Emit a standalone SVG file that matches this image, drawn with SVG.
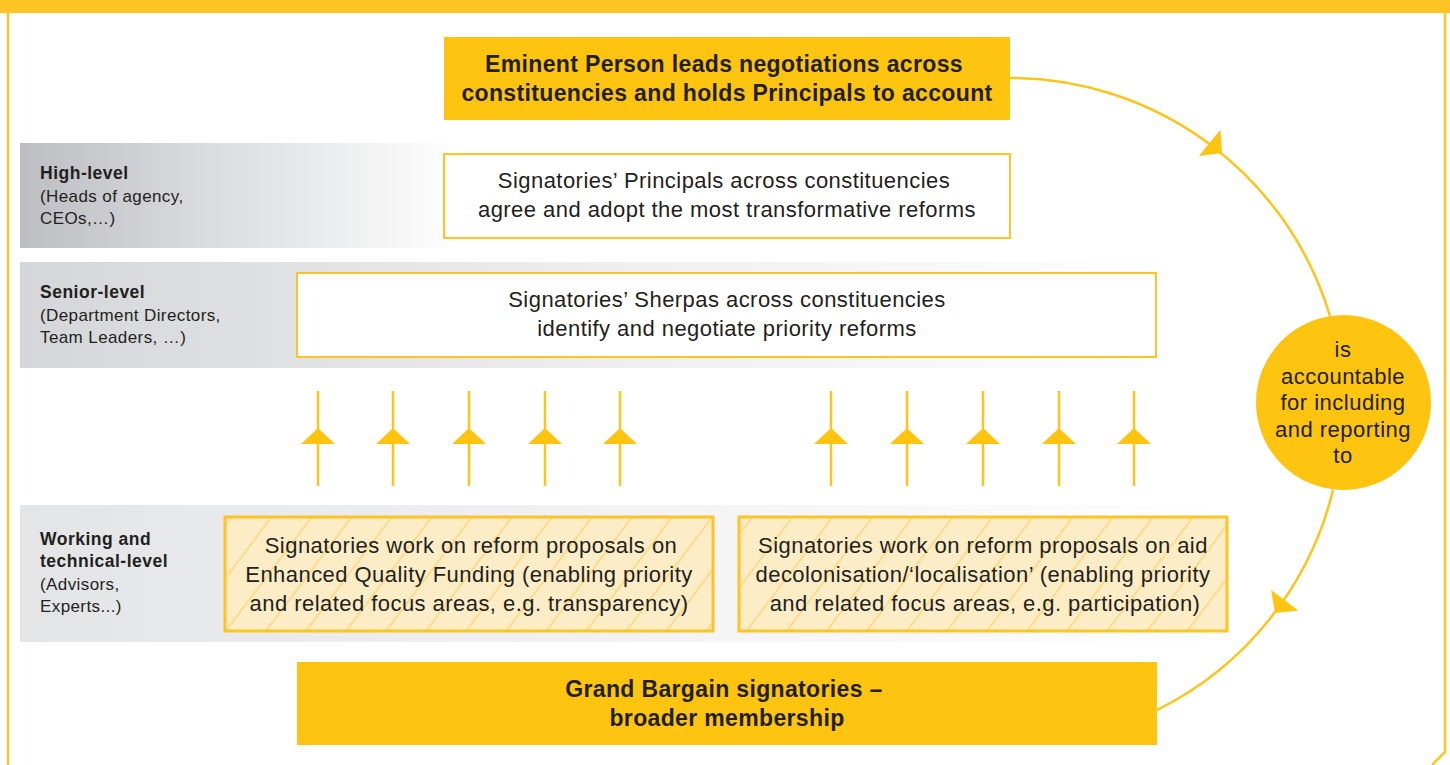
<svg xmlns="http://www.w3.org/2000/svg" width="1450" height="765" viewBox="0 0 1450 765">
  <style>
    .txt { font-family: "Liberation Sans", Arial, sans-serif; fill: #231f20; }
    .box { font-size: 22px; letter-spacing: 0.45px; text-anchor: middle; }
    .head { font-size: 23px; letter-spacing: 0.35px; font-weight: bold; text-anchor: middle; }
    .lvl { font-size: 17px; letter-spacing: 0.4px; }
    .lvlb { font-size: 17.5px; letter-spacing: 0.5px; font-weight: bold; }
    .circ { font-size: 22px; letter-spacing: 0.5px; text-anchor: middle; }
    .line { stroke: #fdc41c; stroke-width: 2.5; fill: none; }
    .head-fill { fill: #fec410; }
    .arrow { fill: #fec410; }
  </style>
  <defs>
    <linearGradient id="bandHigh" x1="0" y1="0" x2="1" y2="0">
      <stop offset="0" stop-color="#bdbec2"/>
      <stop offset="0.45" stop-color="#dcdddf"/>
      <stop offset="1" stop-color="#ffffff"/>
    </linearGradient>
    <linearGradient id="bandSenior" x1="0" y1="0" x2="1" y2="0">
      <stop offset="0" stop-color="#d5d6d9"/>
      <stop offset="0.5" stop-color="#eeeeef"/>
      <stop offset="1" stop-color="#ffffff"/>
    </linearGradient>
    <linearGradient id="bandWork" x1="0" y1="0" x2="1" y2="0">
      <stop offset="0" stop-color="#e3e4e6"/>
      <stop offset="0.5" stop-color="#f3f3f4"/>
      <stop offset="1" stop-color="#ffffff"/>
    </linearGradient>
    <pattern id="hatch" patternUnits="userSpaceOnUse" width="32" height="32" patternTransform="rotate(37)">
      <rect width="32" height="32" fill="#fdedc6"/>
      <line x1="16" y1="0" x2="16" y2="32" stroke="#fddb8c" stroke-width="2"/>
    </pattern>
    <polygon id="head" points="0,0 -16,-17 -16,17"/>
  </defs>

  <!-- page frame -->
  <rect x="0" y="0" width="1450" height="13" fill="#fdc424"/>
  <path d="M8,13 V765 M1445,13 V752 L1432,765" stroke="#fdc424" stroke-width="2.5" fill="none"/>

  <!-- level bands -->
  <g id="band-high">
    <rect x="20" y="143" width="440" height="105" fill="url(#bandHigh)"/>
    <text class="txt lvlb" x="40" y="179">High-level</text>
    <text class="txt lvl" x="40" y="202">(Heads of agency,</text>
    <text class="txt lvl" x="40" y="224">CEOs,…)</text>
  </g>
  <g id="band-senior">
    <rect x="20" y="262" width="1170" height="106" fill="url(#bandSenior)"/>
    <text class="txt lvlb" x="40" y="298">Senior-level</text>
    <text class="txt lvl" x="40" y="321">(Department Directors,</text>
    <text class="txt lvl" x="40" y="343">Team Leaders, …)</text>
  </g>
  <g id="band-working">
    <rect x="20" y="505" width="1230" height="137" fill="url(#bandWork)"/>
    <text class="txt lvlb" x="40" y="545">Working and</text>
    <text class="txt lvlb" x="40" y="567">technical-level</text>
    <text class="txt lvl" x="40" y="590">(Advisors,</text>
    <text class="txt lvl" x="40" y="612">Experts...)</text>
  </g>

  <!-- connectors -->
  <g id="connectors">
    <path class="line" d="M1010,78 A334,334 0 0 1 1330,316"/>
    <path class="line" d="M1333,490 A334,334 0 0 1 1157,710"/>
    <use href="#head" class="arrow" transform="translate(1222,153) rotate(39.3)"/>
    <use href="#head" class="arrow" transform="translate(1275,613) rotate(127.3)"/>
    <g id="up-arrows">
      <path class="line" d="M318,391 V486 M393,391 V486 M469,391 V486 M545,391 V486 M620,391 V486 M831,391 V486 M907,391 V486 M983,391 V486 M1059,391 V486 M1134,391 V486"/>
      <use href="#head" class="arrow" transform="translate(318,428) rotate(-90)"/>
      <use href="#head" class="arrow" transform="translate(393,428) rotate(-90)"/>
      <use href="#head" class="arrow" transform="translate(469,428) rotate(-90)"/>
      <use href="#head" class="arrow" transform="translate(545,428) rotate(-90)"/>
      <use href="#head" class="arrow" transform="translate(620,428) rotate(-90)"/>
      <use href="#head" class="arrow" transform="translate(831,428) rotate(-90)"/>
      <use href="#head" class="arrow" transform="translate(907,428) rotate(-90)"/>
      <use href="#head" class="arrow" transform="translate(983,428) rotate(-90)"/>
      <use href="#head" class="arrow" transform="translate(1059,428) rotate(-90)"/>
      <use href="#head" class="arrow" transform="translate(1134,428) rotate(-90)"/>
    </g>
  </g>

  <!-- nodes -->
  <g id="eminent-person">
    <rect x="444" y="37" width="566" height="83" class="head-fill"/>
    <text class="txt head" x="724" y="72">Eminent Person leads negotiations across</text>
    <text class="txt head" x="727" y="101">constituencies and holds Principals to account</text>
  </g>
  <g id="principals">
    <rect x="444" y="154" width="566" height="84" fill="#ffffff" stroke="#fdc424" stroke-width="2"/>
    <text class="txt box" x="724" y="188">Signatories’ Principals across constituencies</text>
    <text class="txt box" x="727" y="217">agree and adopt the most transformative reforms</text>
  </g>
  <g id="sherpas">
    <rect x="297" y="273" width="859" height="84" fill="#ffffff" stroke="#fdc424" stroke-width="2"/>
    <text class="txt box" x="727" y="307">Signatories’ Sherpas across constituencies</text>
    <text class="txt box" x="727" y="336">identify and negotiate priority reforms</text>
  </g>
  <g id="quality-funding">
    <rect x="225" y="517" width="488" height="114" fill="url(#hatch)" stroke="#fdc424" stroke-width="3"/>
    <text class="txt box" x="471" y="553">Signatories work on reform proposals on</text>
    <text class="txt box" x="469" y="582">Enhanced Quality Funding (enabling priority</text>
    <text class="txt box" x="469" y="611">and related focus areas, e.g. transparency)</text>
  </g>
  <g id="localisation">
    <rect x="739" y="517" width="488" height="114" fill="url(#hatch)" stroke="#fdc424" stroke-width="3"/>
    <text class="txt box" x="983" y="553">Signatories work on reform proposals on aid</text>
    <text class="txt box" x="983" y="582">decolonisation/‘localisation’ (enabling priority</text>
    <text class="txt box" x="985" y="611">and related focus areas, e.g. participation)</text>
  </g>
  <g id="grand-bargain">
    <rect x="297" y="662" width="860" height="83" class="head-fill"/>
    <text class="txt head" x="724" y="697">Grand Bargain signatories –</text>
    <text class="txt head" x="727" y="726">broader membership</text>
  </g>
  <g id="accountable">
    <circle cx="1343.5" cy="402.5" r="87.5" fill="#fec410"/>
    <text class="txt circ" x="1343" y="357">is</text>
    <text class="txt circ" x="1343" y="384">accountable</text>
    <text class="txt circ" x="1343" y="410">for including</text>
    <text class="txt circ" x="1343" y="437">and reporting</text>
    <text class="txt circ" x="1343" y="463">to</text>
  </g>
</svg>
